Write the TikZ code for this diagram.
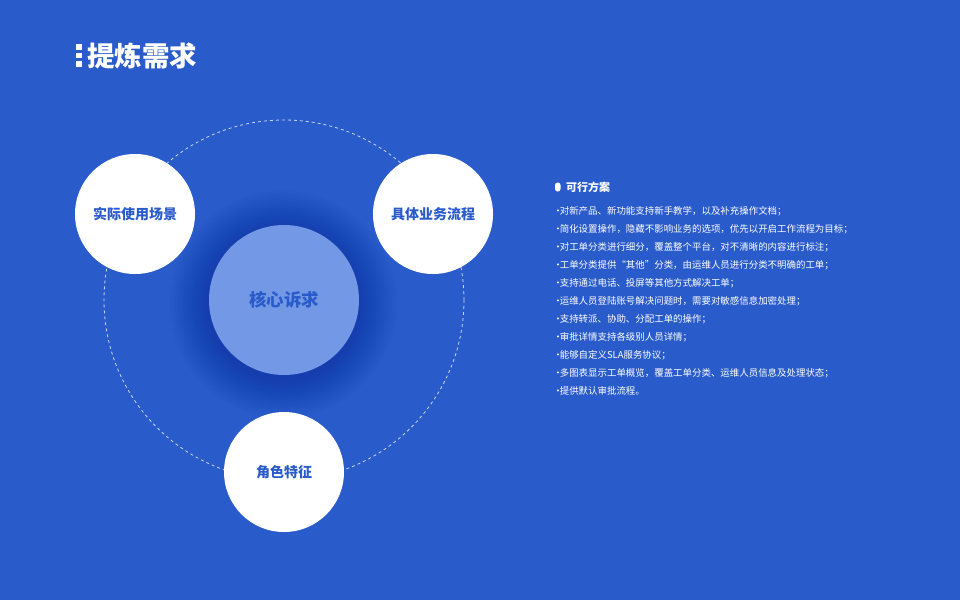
\documentclass[tikz,border=0pt]{standalone}
\usepackage{fontspec}
\setmainfont{Noto Sans CJK SC}
\definecolor{bg}{HTML}{2A5BCB}
\definecolor{corefill}{HTML}{7398E5}
\definecolor{glow}{HTML}{163C9C}
\newcommand{\ldot}{\makebox[3.6pt][c]{·}}
\begin{document}
\begin{tikzpicture}[x=1pt,y=-1pt,
  wcircle/.style={circle, fill=white, minimum size=120pt, inner sep=0pt, text=bg, font=\bfseries\fontsize{14}{16}\selectfont},
  corecircle/.style={circle, fill=corefill, minimum size=150pt, inner sep=0pt, text=bg, font=\bfseries\fontsize{17.5}{19}\selectfont},
  item/.style={anchor=west, text=white, font=\fontsize{9.45}{11}\selectfont, inner sep=0pt},
  titlesq/.style={fill=white},
]
\fill[bg] (0,0) rectangle (960,600);
\useasboundingbox (0,0) rectangle (960,600);

% title
\fill[titlesq] (76,44) rectangle (81.5,49.5);
\fill[titlesq] (76,52.5) rectangle (81.5,58);
\fill[titlesq] (76,61) rectangle (81.5,66.5);
\node[anchor=west, text=white, font=\bfseries\fontsize{27.5}{29}\selectfont, inner sep=0pt] (title) at (87,56) {提炼需求};

% dashed orbit
\draw[white, opacity=0.75, line width=0.8pt, dash pattern=on 3pt off 3pt] (284,300) circle (180pt);

% glow around core
\foreach \i in {1,...,30} {
  \pgfmathsetmacro\r{75+\i*1.3}
  \fill[glow, opacity=0.009] (283,304) circle (\r pt);
}

\node[corecircle] (core) at (284,300) {核心诉求};
\node[wcircle] (scene) at (135,214) {实际使用场景};
\node[wcircle] (flow) at (433,214) {具体业务流程};
\node[wcircle] (role) at (284,472) {角色特征};

% right panel
\fill[white, rounded corners=2.6pt] (555,182.5) rectangle (560.5,191.5);
\node[anchor=west, text=white, font=\bfseries\fontsize{11}{13}\selectfont, inner sep=0pt] (hdr) at (566,187) {可行方案};

\node[item] (i1) at (556,211) {\ldot 对新产品、新功能支持新手教学，以及补充操作文档；};
\node[item] (i2) at (556,229) {\ldot 简化设置操作，隐藏不影响业务的选项，优先以开启工作流程为目标；};
\node[item] (i3) at (556,247) {\ldot 对工单分类进行细分，覆盖整个平台，对不清晰的内容进行标注；};
\node[item] (i4) at (556,265) {\ldot 工单分类提供“其他”分类，由运维人员进行分类不明确的工单；};
\node[item] (i5) at (556,283) {\ldot 支持通过电话、投屏等其他方式解决工单；};
\node[item] (i6) at (556,301) {\ldot 运维人员登陆账号解决问题时，需要对敏感信息加密处理；};
\node[item] (i7) at (556,319) {\ldot 支持转派、协助、分配工单的操作；};
\node[item] (i8) at (556,337) {\ldot 审批详情支持各级别人员详情；};
\node[item] (i9) at (556,355) {\ldot 能够自定义SLA服务协议；};
\node[item] (i10) at (556,373) {\ldot 多图表显示工单概览，覆盖工单分类、运维人员信息及处理状态；};
\node[item] (i11) at (556,391) {\ldot 提供默认审批流程。};
\end{tikzpicture}
\end{document}
